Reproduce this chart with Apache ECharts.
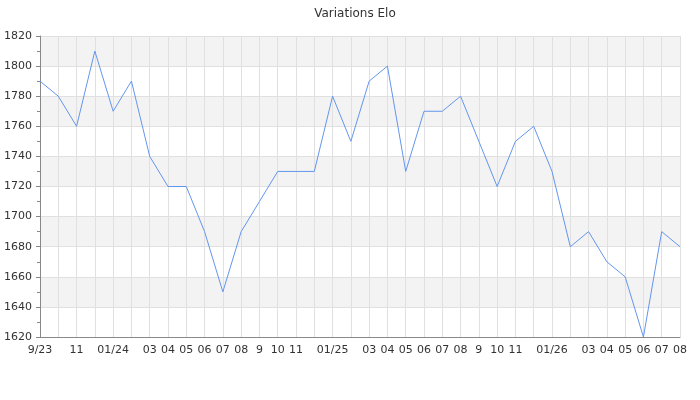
<!DOCTYPE html>
<html>
<head>
<meta charset="utf-8">
<script src="https://cdn.jsdelivr.net/npm/echarts@6/dist/echarts.min.js"></script>
<style>html,body{margin:0;padding:0;background:#fff}#c{width:700px;height:400px}</style>
</head>
<body>
<div id="c"></div>
<script>
const categories = ['9/23','10','11','12','01/24','02','03','04','05','06','07','08',
  '9','10','11','12','01/25','02','03','04','05','06','07','08',
  '9','10','11','12','01/26','02','03','04','05','06','07','08'];
const hiddenLabels = [1,3,5,15,17,27,29];
const elo = [1790,1780,1760,1810,1770,1790,1740,1720,1720,1690,1650,1690,
  1710,1730,1730,1730,1780,1750,1790,1800,1730,1770,1770,1780,
  1750,1720,1750,1760,1730,1680,1690,1670,1660,1620,1690,1680];
const yTicks = {min:1620, max:1820, interval:20};
const titleText = 'Variations Elo';

const chart = echarts.init(document.getElementById('c'), null, {renderer:'canvas'});
chart.setOption({
  animation:false,
  backgroundColor:'#fff',
  title:{text:titleText, left:350, textAlign:'center', top:3,
    textStyle:{fontFamily:'DejaVu Sans', fontSize:12, fontWeight:'normal', color:'#333'}},
  grid:{left:40, right:20, top:36, bottom:63, containLabel:false},
  xAxis:{type:'category', data:categories, boundaryGap:false,
    axisLine:{lineStyle:{color:'#888', width:1}},
    axisTick:{show:false},
    axisLabel:{fontFamily:'DejaVu Sans', fontSize:11, color:'#333', margin:8,
      interval:(i)=>hiddenLabels.indexOf(i)<0},
    splitLine:{show:true, interval:0, lineStyle:{color:'#e0e0e0', width:1}}},
  yAxis:{type:'value', min:yTicks.min, max:yTicks.max, interval:yTicks.interval,
    axisLine:{show:true, lineStyle:{color:'#888', width:1}},
    axisTick:{show:true, length:4, lineStyle:{color:'#888'}},
    minorTick:{show:true, splitNumber:2, length:3, lineStyle:{color:'#888'}},
    axisLabel:{fontFamily:'DejaVu Sans', fontSize:11, color:'#333', margin:8,
      formatter:(v)=>String(v)},
    splitLine:{show:true, lineStyle:{color:'#e0e0e0', width:1}},
    splitArea:{show:true, areaStyle:{color:['#ffffff','#f3f3f3']}}},
  series:[{type:'line', data:elo, symbol:'none', showSymbol:false,
    lineStyle:{color:'#6495ED', width:1}, itemStyle:{color:'#6495ED'}}]
});
</script>
</body>
</html>
